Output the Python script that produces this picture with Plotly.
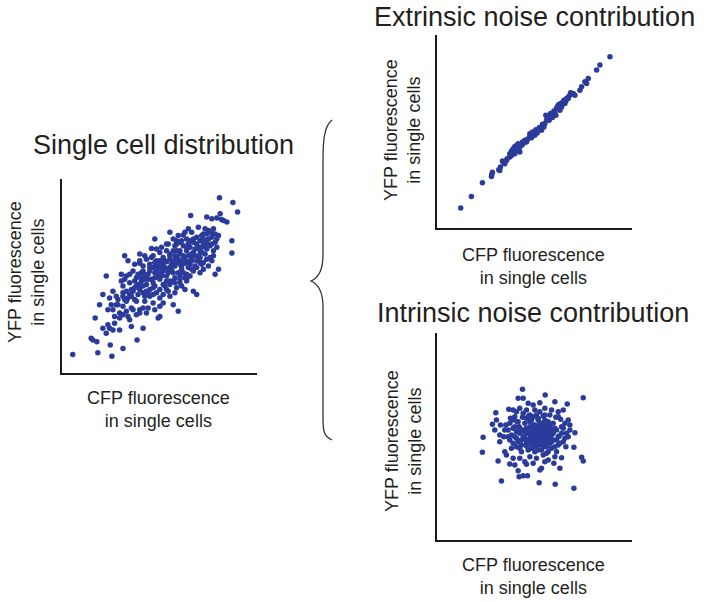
import plotly.graph_objects as go

W, H = 704, 602
DOT = "#2b3b9b"
INK = "#231f20"
FONT = "Liberation Sans, Arial, sans-serif"

# ---------------- data (arbitrary fluorescence units) -------------
single_cfp = [
    478, 518, 532, 392, 440, 455, 480, 484, 490, 500, 470,
    415, 435, 445, 460, 455, 465, 475, 385, 330, 355, 370, 440, 425, 430, 445, 420, 400, 410, 390,
    380, 350, 360, 340, 285, 515, 470, 455,
    325, 345, 370, 390, 410, 430, 450, 470, 460, 440, 420, 400, 380, 360, 340, 320, 300, 275, 280,
    310, 330, 350, 370, 395, 415, 460, 515, 240, 195, 300, 320, 340, 365, 385, 410, 430, 455, 260,
    240, 205,
    250, 270, 290, 310, 330, 345, 365, 385, 405, 425, 430, 475, 465, 220, 245, 265, 285, 305, 320,
    340, 360, 380, 400, 420, 185, 140, 200, 230, 255, 275, 300, 320, 340, 360, 380, 185, 210, 235,
    260,
    190, 215, 240, 260, 280, 300, 325, 350, 375, 400, 410, 190, 210, 235, 255, 280, 300, 330, 345,
    130, 150, 175, 200, 230, 255, 280, 310, 340, 120,
    170, 190, 215, 240, 265, 285, 300, 145, 180, 200, 240, 260, 205, 210, 300, 295, 355, 107, 165,
    145, 180, 190,
    130, 150, 140, 180, 215, 250, 160, 95, 100, 112, 152, 232, 190, 115, 40, 157,
    280, 295, 310, 325, 335, 350, 360, 375, 300, 290, 270, 260, 245, 230, 220, 205, 195, 315, 330,
    345, 355, 370, 390, 395, 405, 425, 385, 365, 345, 330, 305, 285, 270, 250, 235, 225, 270, 290,
    310, 320, 270, 250, 360, 375, 390, 440, 435, 450, 445, 420,
    285, 295, 305, 315, 325, 335, 340, 355, 365, 375, 385, 395, 405, 415, 425, 435, 400, 380, 360,
    350, 330, 315, 300, 290, 280, 265, 255, 245, 240, 225, 215, 200, 190, 175, 160, 170, 225, 250,
    265, 285, 310, 330, 345, 365, 380, 395, 410, 420, 440, 455, 465, 430, 395, 375, 350, 320, 305,
    290, 275, 255, 240, 225, 210, 195, 160, 165, 155, 220, 230, 250,
]
single_yfp = [
    532, 518, 490, 480, 475, 470, 485, 468, 465, 460, 472,
    445, 440, 435, 440, 428, 425, 420, 440, 430, 420, 422, 425, 420, 410, 410, 405, 410, 415, 405,
    410, 405, 400, 410, 410, 405, 410, 415,
    395, 390, 390, 385, 395, 395, 390, 385, 375, 380, 375, 370, 375, 375, 375, 375, 370, 382, 360,
    355, 360, 355, 360, 355, 360, 360, 368, 365, 360, 345, 342, 340, 345, 342, 345, 340, 345, 350,
    338, 345,
    330, 325, 330, 330, 325, 330, 320, 325, 330, 335, 320, 320, 305, 315, 310, 305, 310, 310, 300,
    310, 300, 305, 315, 310, 305, 300, 300, 295, 290, 290, 290, 285, 285, 280, 285, 285, 280, 275,
    275,
    270, 260, 260, 255, 265, 260, 255, 265, 260, 255, 245, 250, 245, 245, 240, 245, 235, 240, 250,
    245, 235, 230, 225, 225, 225, 220, 220, 215, 215,
    215, 210, 205, 200, 205, 200, 210, 200, 190, 195, 190, 190, 180, 170, 180, 175, 195, 175, 160,
    155, 175, 185,
    145, 145, 130, 140, 150, 145, 140, 115, 110, 105, 95, 110, 85, 72, 67, 62,
    280, 300, 315, 320, 335, 342, 335, 338, 325, 320, 315, 300, 285, 270, 255, 235, 230, 270, 275,
    295, 310, 310, 335, 365, 380, 385, 395, 405, 360, 350, 338, 340, 335, 315, 305, 285, 260, 250,
    245, 260, 240, 270, 290, 295, 300, 400, 365, 355, 330, 355,
    295, 310, 300, 325, 310, 320, 345, 350, 330, 350, 360, 345, 360, 385, 370, 390, 400, 385, 365,
    375, 365, 345, 335, 345, 325, 290, 305, 295, 275, 265, 240, 255, 240, 215, 200, 240, 230, 250,
    250, 270, 275, 285, 280, 270, 290, 320, 325, 340, 350, 395, 400, 425, 430, 430, 395, 395, 385,
    380, 355, 360, 345, 335, 305, 290, 255, 180, 215, 200, 185, 205,
]

extrinsic_cfp = [
    93, 125, 158, 185, 188, 207, 212, 218, 225, 232, 240, 245, 250, 258, 262, 268, 275, 270, 280,
    290, 295, 300, 305, 310, 315, 320, 325, 330, 335, 340, 345, 350, 348, 355, 360, 365, 370, 375,
    380, 385, 390, 395, 400, 405, 410, 415, 420, 425, 430, 435, 450, 455, 465, 475, 470, 500, 510,
    540,
    250, 255, 285, 292, 300, 318, 328, 338, 342, 352, 358, 362, 368, 372, 378, 382, 388, 395, 402,
    408, 415, 422, 260, 240, 230, 265, 278, 308, 322, 335, 245, 255, 220, 210, 186,
]
extrinsic_yfp = [
    68, 102, 143, 162, 175, 182, 190, 208, 200, 215, 220, 225, 235, 240, 250, 245, 255, 235, 260,
    265, 275, 282, 278, 290, 285, 295, 300, 305, 310, 315, 320, 330, 345, 335, 340, 345, 350, 355,
    365, 375, 360, 370, 385, 380, 395, 400, 405, 410, 410, 405, 420, 430, 445, 455, 440, 480, 495,
    520,
    245, 252, 270, 272, 290, 302, 308, 318, 310, 338, 330, 350, 338, 358, 345, 370, 378, 382, 390,
    388, 395, 412, 255, 230, 210, 260, 265, 295, 292, 300, 238, 230, 205, 180, 168,
]

intrinsic_cfp = [
    278, 346, 460, 265, 280, 295, 310, 330, 375, 412, 237, 198, 250, 270, 290, 315, 345, 365, 385,
    400, 188, 200, 212, 228, 242, 255, 262, 278, 296, 320, 340, 360, 378, 392, 415, 405, 420, 160,
    195, 210, 222, 235, 250, 268, 280, 300, 315, 325, 345, 360, 380, 400, 435, 415, 405, 388, 240,
    255, 265, 285, 305, 320, 340, 355, 370, 210, 158, 205, 230, 245, 260, 275, 290, 310, 330, 350,
    365, 385, 408, 432, 240, 255, 270, 285, 300, 320, 340, 355, 375, 395, 372, 390, 455, 460, 215,
    268, 280, 293, 265, 330, 335, 345, 328, 376, 432, 290, 310, 250, 225,
    300, 310, 320, 330, 340, 350, 335, 325, 315, 345, 355, 330, 310, 295, 290, 300, 340, 320, 335,
    350, 365, 370, 360, 305, 325, 345, 285, 270, 275, 360, 380, 260, 250, 295, 315, 335, 355, 380,
    300, 280, 330, 260, 240, 395, 400, 290, 318, 342,
    305, 315, 325, 335, 345, 355, 330, 320, 310, 300, 290, 280, 345, 365, 375, 360, 340, 330, 310,
    300, 285, 270, 275, 290, 350, 365, 385, 395, 370, 355, 325, 345, 310, 290, 265, 255, 245, 260,
    270, 305, 325, 350, 375, 390, 410, 420, 235, 225, 250, 385,
]
intrinsic_yfp = [
    462, 445, 437, 435, 435, 420, 415, 422, 425, 418, 402, 392, 400, 405, 400, 400, 405, 400, 395,
    400, 357, 370, 355, 355, 375, 380, 365, 378, 382, 385, 382, 385, 378, 372, 370, 360, 355, 318,
    340, 325, 320, 340, 345, 350, 340, 350, 355, 345, 355, 350, 340, 345, 332, 320, 315, 322, 310,
    320, 305, 315, 320, 310, 320, 325, 310, 305, 273, 247, 265, 285, 290, 275, 292, 290, 295, 290,
    285, 295, 290, 288, 238, 235, 255, 245, 260, 255, 265, 250, 260, 257, 240, 225, 258, 247, 187,
    200, 203, 203, 218, 220, 225, 245, 182, 177, 165, 237, 240, 255, 275,
    340, 335, 330, 340, 335, 330, 325, 320, 315, 310, 315, 305, 305, 330, 310, 300, 300, 350, 360,
    345, 340, 330, 320, 370, 370, 370, 360, 330, 295, 300, 310, 335, 300, 280, 275, 280, 275, 275,
    385, 390, 395, 395, 360, 330, 305, 330, 292, 290,
    345, 340, 335, 345, 340, 335, 315, 300, 325, 315, 345, 320, 320, 325, 345, 355, 355, 360, 355,
    365, 335, 345, 310, 300, 305, 305, 320, 350, 360, 365, 375, 385, 380, 375, 365, 350, 325, 315,
    285, 285, 280, 270, 290, 300, 330, 340, 320, 340, 370, 380,
]

panel_titles = ["Single cell distribution", "Extrinsic noise contribution",
                "Intrinsic noise contribution"]
x_label = "CFP fluorescence<br>in single cells"
y_label = "YFP fluorescence<br>in single cells"

# ---------------- layout geometry (pixels of the 704x602 page) -----------------------------------
def px(x):
    return x / W


def py(y):
    return 1 - y / H


panels = [
    # (x data, y data, x range, y range, x px domain, y px domain)
    (single_cfp, single_yfp, [8, 590], [12, 588], (62, 257), (179, 373)),
    (extrinsic_cfp, extrinsic_yfp, [22, 606], [8, 585], (437, 632), (35, 228)),
    (intrinsic_cfp, intrinsic_yfp, [22, 606], [10, 631], (437, 632), (333, 540)),
]

fig = go.Figure()
layout_axes = {}
for i, (xs, ys, xr, yr, xd, yd) in enumerate(panels, start=1):
    sfx = "" if i == 1 else str(i)
    fig.add_trace(go.Scatter(
        x=xs, y=ys, mode="markers", xaxis="x" + sfx, yaxis="y" + sfx,
        marker=dict(size=5.5, color=DOT, line=dict(width=0)),
        hoverinfo="skip", showlegend=False,
    ))
    ax = dict(showline=True, linecolor="#1a1a1a", linewidth=2, showgrid=False,
              zeroline=False, showticklabels=False, ticks="", fixedrange=True)
    layout_axes["xaxis" + sfx] = dict(ax, range=xr, domain=[px(xd[0]), px(xd[1])],
                                      anchor="y" + sfx)
    layout_axes["yaxis" + sfx] = dict(ax, range=yr, domain=[py(yd[1]), py(yd[0])],
                                      anchor="x" + sfx)

annotations = []


def label(text, x, y, size, angle=0):
    annotations.append(dict(
        text=text, x=px(x), y=py(y), xref="paper", yref="paper",
        xanchor="center", yanchor="middle", showarrow=False, textangle=angle,
        font=dict(family=FONT, size=size, color=INK),
    ))


# panel titles
label(panel_titles[0], 163, 145, 27)
label(panel_titles[1], 534, 17, 27)
label(panel_titles[2], 533, 313, 27)
# x labels
label(x_label, 158, 409, 18)
label(x_label, 533, 266, 18)
label(x_label, 533, 576, 18)
# y labels
label(y_label, 26, 272, 18, -90)
label(y_label, 403, 130, 18, -90)
label(y_label, 403, 441, 18, -90)

# curly brace joining the panels
pts = [(332, 120), (324, 126), (323, 142), (323, 160), (323, 255), (323, 271), (318, 278),
       (311, 281), (318, 284), (323, 291), (323, 307), (323, 418), (323, 432), (324, 436), (332, 440)]
p = [(px(a), py(b)) for a, b in pts]
path = (f"M {p[0][0]},{p[0][1]} C {p[1][0]},{p[1][1]} {p[2][0]},{p[2][1]} {p[3][0]},{p[3][1]} "
        f"L {p[4][0]},{p[4][1]} C {p[5][0]},{p[5][1]} {p[6][0]},{p[6][1]} {p[7][0]},{p[7][1]} "
        f"C {p[8][0]},{p[8][1]} {p[9][0]},{p[9][1]} {p[10][0]},{p[10][1]} "
        f"L {p[11][0]},{p[11][1]} C {p[12][0]},{p[12][1]} {p[13][0]},{p[13][1]} {p[14][0]},{p[14][1]}")

fig.update_layout(
    width=W, height=H, margin=dict(l=0, r=0, t=0, b=0),
    paper_bgcolor="white", plot_bgcolor="white",
    annotations=annotations,
    shapes=[dict(type="path", path=path, xref="paper", yref="paper",
                 line=dict(color="#333333", width=1.3))],
    **layout_axes,
)

fig.write_html(
    "out.html",
    config={"displayModeBar": False},
    post_script="document.body.style.margin='0px';document.body.style.overflow='hidden';",
)
